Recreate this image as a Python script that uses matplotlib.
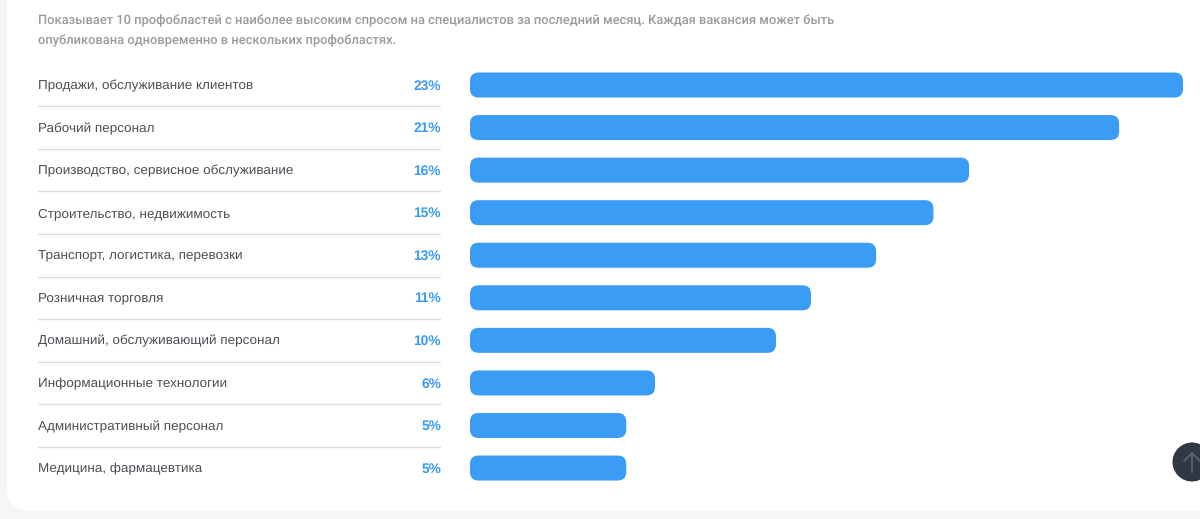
import matplotlib
matplotlib.use('Agg')
import matplotlib.pyplot as plt
from matplotlib.patches import FancyBboxPatch, Circle

plt.rcParams['font.family'] = ['Liberation Sans', 'DejaVu Sans']
plt.rcParams['text.hinting'] = 'no_hinting'

W, H = 1200, 519

intro_lines = [
    'Показывает 10 профобластей с наиболее высоким спросом на специалистов за последний месяц. Каждая вакансия может быть',
    'опубликована одновременно в нескольких профобластях.',
]
categories = [
    'Продажи, обслуживание клиентов',
    'Рабочий персонал',
    'Производство, сервисное обслуживание',
    'Строительство, недвижимость',
    'Транспорт, логистика, перевозки',
    'Розничная торговля',
    'Домашний, обслуживающий персонал',
    'Информационные технологии',
    'Административный персонал',
    'Медицина, фармацевтика',
]
# подписи округлены, длина полос
labels = ['23%', '21%', '16%', '15%', '13%', '11%', '10%', '6%', '5%', '5%']
values = [23.0, 20.94, 16.1, 14.95, 13.1, 11.0, 9.87, 5.97, 5.04, 5.04]


def box(left, top, right, bottom):
    return [left / W, 1 - bottom / H, (right - left) / W, (bottom - top) / H]


fig = plt.figure(figsize=(W / 100, H / 100), dpi=100, facecolor='#f6f6f6')

# фон: белая карточка со скруглением
bg = fig.add_axes([0, 0, 1, 1])
bg.set_xlim(0, W)
bg.set_ylim(H, 0)
bg.axis('off')
bg.add_patch(FancyBboxPatch((7, -60), W + 60, 571, boxstyle='round,pad=0,rounding_size=24',
                            facecolor='white', edgecolor='none'))
for line, y in zip(intro_lines, [20.5, 40.5]):
    bg.text(38, y, line, fontsize=9.28, color='#9b9b9b', va='center', ha='left',
            family=['Roboto', 'DejaVu Sans'], fontweight='medium')

row_h = 42.56
top = 85 - row_h / 2
bottom = top + row_h * len(categories)

# левая колонка: названия и проценты
left = fig.add_axes(box(38, top, 441, bottom))
left.set_xlim(0, 1)
left.set_ylim(len(categories) - 0.5, -0.5)
left.axis('off')
for i, (name, lab) in enumerate(zip(categories, labels)):
    left.text(0, i + 0.02, name, fontsize=9.7, color='#4a4f55', va='center', ha='left')
    left.text(1, i + 0.02, lab, fontsize=9.9, color='#3a9bf4', va='center', ha='right', fontweight='bold')
    if i < len(categories) - 1:
        left.axhline(i + 0.5, color='#dcdcdc', linewidth=1)

# полосы
ax = fig.add_axes(box(470, top, 1183, bottom))
ax.set_xlim(0, max(values))
ax.set_ylim(len(categories) - 0.5, -0.5)
ax.axis('off')
bar_h = 25 / row_h
px_x = 713 / max(values)
for i, v in enumerate(values):
    ax.add_patch(FancyBboxPatch((0, i - bar_h / 2), v, bar_h,
                                boxstyle=f'round,pad=0,rounding_size={8.5 / px_x}',
                                mutation_aspect=px_x / row_h,
                                facecolor='#3a9cf5', edgecolor='none'))

# кнопка "наверх"
bg.add_patch(Circle((1192, 462), 19.5, facecolor='#2f3844', edgecolor='none', zorder=5))
bg.plot([1192, 1192], [453, 472], color='#5f6a78', linewidth=1.1, zorder=6)
bg.plot([1184, 1192, 1200], [461, 453, 461], color='#5f6a78', linewidth=1.1, zorder=6)

fig.savefig('out.png', dpi=100, facecolor=fig.get_facecolor())
